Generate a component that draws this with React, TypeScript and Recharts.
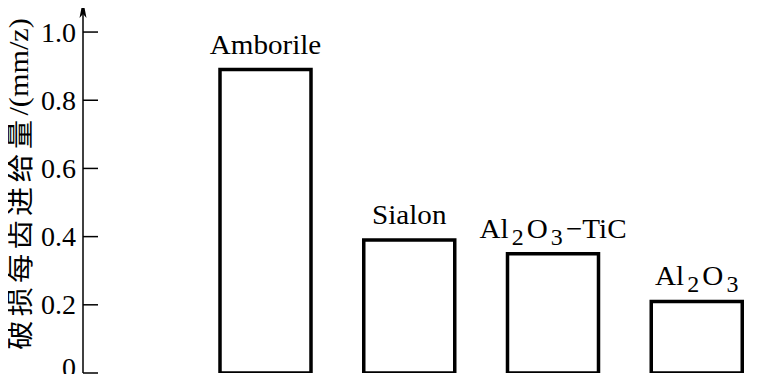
import React from 'react';
import { BarChart, Bar, XAxis, YAxis, LabelList } from 'recharts';

const categories = ['Amborile', 'Sialon', 'Al2O3-TiC', 'Al2O3'];
const values = [0.89, 0.39, 0.35, 0.21];
const yTicks = [0, 0.2, 0.4, 0.6, 0.8, 1.0];
const yTitleCJK = '破损每齿进给量';
const yTitleUnit = '/(mm/z)';

const data = categories.map((name, i) => ({ name, value: values[i] }));

const SERIF = 'Liberation Serif, Times New Roman, Times, serif';
const STRETCH = 1.04;

function formulaParts(s: string) {
  const out: { t: string; sub: boolean }[] = [];
  const txt = s.replace('-', '\u2212');
  for (let i = 0; i < txt.length; i++) {
    const c = txt[i];
    const sub = /[0-9]/.test(c) && i > 0 && /[A-Za-z]/.test(txt[i - 1]);
    const last = out[out.length - 1];
    if (last && last.sub === sub && !sub) last.t += c;
    else out.push({ t: c, sub });
  }
  return out;
}

const BarLabel = (props: any) => {
  const { x, y, width, value } = props;
  const cx = Number(x) + Number(width) / 2;
  const by = Number(y) - 16;
  const parts = formulaParts(String(value));
  let prevSub = false;
  return (
    <text
      transform={`translate(${cx},${by}) scale(${STRETCH},1)`}
      x={0}
      y={0}
      textAnchor="middle"
      style={{ fontFamily: SERIF }}
      fontSize={28}
      fill="#000"
    >
      {parts.map((p, i) => {
        const dy = p.sub && !prevSub ? 7 : !p.sub && prevSub ? -7 : 0;
        prevSub = p.sub;
        return (
          <tspan
            key={i}
            dy={dy}
            dx={p.sub || (i > 0 && parts[i - 1].sub) ? 3 : 0}
            fontSize={p.sub ? 23 : 28}
          >
            {p.t}
          </tspan>
        );
      })}
    </text>
  );
};

const YTick = (props: any) => {
  const { x, y, payload } = props;
  const v = Number(payload.value);
  const label = v === 0 ? '0' : v.toFixed(1);
  return (
    <g>
      <line x1={x} y1={y} x2={x + 15} y2={y} stroke="#000" strokeWidth={1.5} />
      <text
        transform={`translate(${x - 7},${v === 0 ? y - 6 : y})`}
        x={0}
        y={0}
        textAnchor="end"
        dominantBaseline="central"
        style={{ fontFamily: SERIF }}
        fontSize={28}
        fill="#000"
      >
        {label}
      </text>
    </g>
  );
};

const YTitle = (props: any) => {
  const vb = props.viewBox || {};
  const ax = Number(vb.x) + Number(vb.width);
  const top = Number(vb.y);
  return (
    <g>
      <polygon
        points={`${ax},${top} ${ax - 3.5},${top + 18} ${ax},${top + 14} ${ax + 3.5},${top + 18}`}
        fill="#000"
      />
      <text
        transform={`translate(18,${top + 184}) rotate(-90) scale(1.08,1)`}
        x={0}
        y={0}
        textAnchor="middle"
        dominantBaseline="central"
        fill="#000"
      >
        <tspan
          style={{ fontFamily: 'Noto Sans CJK SC, sans-serif', letterSpacing: 4 }}
          fontSize={27}
        >
          {yTitleCJK}
        </tspan>
        <tspan style={{ fontFamily: SERIF }} fontSize={28}>
          {yTitleUnit}
        </tspan>
      </text>
    </g>
  );
};

export default function App() {
  return (
    <div style={{ margin: -8, width: 778, height: 382, background: '#fff' }}>
      <BarChart
        width={778}
        height={382}
        data={data}
        margin={{ top: 0, right: 0, bottom: 9, left: 0 }}
      >
        <XAxis
          dataKey="name"
          height={0}
          tick={false}
          tickLine={false}
          axisLine={{ stroke: '#000', strokeWidth: 1.5 }}
          padding={{ left: 111, right: 9 }}
        />
        <YAxis
          width={83}
          domain={[0, 1.094]}
          ticks={yTicks}
          allowDataOverflow
          tickSize={0}
          tickMargin={0}
          tickLine={false}
          tick={<YTick />}
          axisLine={{ stroke: '#000', strokeWidth: 1.5 }}
          label={<YTitle />}
        />
        <Bar
          dataKey="value"
          fill="#fff"
          stroke="#000"
          strokeWidth={3.5}
          barSize={91}
          isAnimationActive={false}
        >
          <LabelList dataKey="name" content={<BarLabel />} />
        </Bar>
      </BarChart>
    </div>
  );
}
